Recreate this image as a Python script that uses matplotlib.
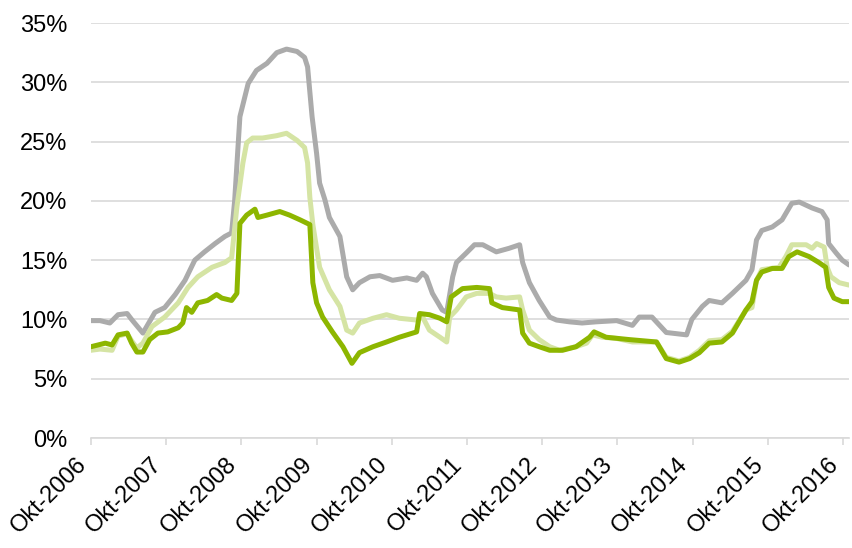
import matplotlib.pyplot as plt


#################### Data ####################

# x values in decimal years, y values in percent

gray_t = [2006.75, 2006.87, 2007.00, 2007.11, 2007.23, 2007.29, 2007.44, 2007.60, 2007.73, 2007.87,
          2008.00, 2008.13, 2008.26, 2008.40, 2008.53, 2008.62, 2008.66, 2008.73, 2008.84, 2008.95,
          2009.09, 2009.22, 2009.35, 2009.49, 2009.59, 2009.63, 2009.69, 2009.75, 2009.79, 2009.86,
          2009.92, 2010.06, 2010.15, 2010.23, 2010.32, 2010.46, 2010.59, 2010.76, 2010.95, 2011.08,
          2011.16, 2011.21, 2011.29, 2011.42, 2011.48, 2011.56, 2011.61, 2011.74, 2011.85, 2011.96,
          2012.14, 2012.31, 2012.45, 2012.49, 2012.58, 2012.71, 2012.85, 2012.94, 2013.11, 2013.28,
          2013.47, 2013.74, 2013.95, 2014.04, 2014.21, 2014.40, 2014.67, 2014.74, 2014.88, 2014.97,
          2015.14, 2015.28, 2015.46, 2015.54, 2015.60, 2015.67, 2015.81, 2015.94, 2016.07, 2016.17,
          2016.34, 2016.47, 2016.54, 2016.56, 2016.66, 2016.74, 2016.83]
gray_v = [9.9, 9.9, 9.7, 10.4, 10.5, 10.0, 8.85, 10.6, 11.0, 12.1,
          13.3, 15.0, 15.7, 16.4, 17.0, 17.3, 20.0, 27.1, 29.9, 31.0,
          31.6, 32.5, 32.8, 32.6, 32.1, 31.3, 27.1, 24.0, 21.5, 20.1,
          18.6, 17.0, 13.6, 12.5, 13.1, 13.6, 13.7, 13.3, 13.5, 13.3,
          13.9, 13.6, 12.2, 10.8, 10.6, 13.6, 14.8, 15.6, 16.3, 16.3,
          15.7, 16.0, 16.3, 14.8, 13.1, 11.6, 10.2, 9.95, 9.8, 9.7,
          9.8, 9.9, 9.5, 10.2, 10.2, 8.9, 8.7, 10.0, 11.1, 11.6,
          11.4, 12.2, 13.3, 14.2, 16.7, 17.5, 17.8, 18.4, 19.8, 19.9,
          19.4, 19.1, 18.4, 16.4, 15.6, 15.0, 14.6]

light_t = [2006.75, 2006.87, 2007.03, 2007.11, 2007.23, 2007.29, 2007.36, 2007.44, 2007.56, 2007.73,
           2007.91, 2008.04, 2008.17, 2008.36, 2008.53, 2008.62, 2008.69, 2008.77, 2008.82, 2008.90,
           2009.03, 2009.22, 2009.35, 2009.49, 2009.59, 2009.63, 2009.66, 2009.70, 2009.79, 2009.92,
           2010.06, 2010.15, 2010.23, 2010.32, 2010.50, 2010.68, 2010.85, 2011.08, 2011.16, 2011.25,
           2011.39, 2011.48, 2011.52, 2011.61, 2011.74, 2011.88, 2012.05, 2012.14, 2012.27, 2012.45,
           2012.49, 2012.58, 2012.71, 2012.85, 2012.98, 2013.20, 2013.34, 2013.42, 2013.55, 2013.74,
           2013.95, 2014.27, 2014.40, 2014.57, 2014.71, 2014.84, 2014.97, 2015.14, 2015.28, 2015.46,
           2015.54, 2015.60, 2015.67, 2015.90, 2015.99, 2016.07, 2016.26, 2016.34, 2016.40, 2016.50,
           2016.54, 2016.59, 2016.70, 2016.83]
light_v = [7.4, 7.5, 7.4, 8.6, 8.8, 8.2, 7.6, 8.0, 9.4, 10.2,
           11.4, 12.7, 13.6, 14.4, 14.8, 15.2, 19.5, 23.2, 24.9, 25.3,
           25.3, 25.5, 25.7, 25.1, 24.5, 23.2, 20.3, 18.0, 14.4, 12.5,
           11.1, 9.1, 8.85, 9.7, 10.1, 10.4, 10.1, 9.95, 10.2, 9.1,
           8.5, 8.1, 10.2, 10.8, 11.9, 12.2, 12.2, 11.9, 11.8, 11.9,
           10.8, 9.1, 8.3, 7.7, 7.4, 7.7, 8.0, 8.7, 8.5, 8.4,
           8.1, 8.1, 6.8, 6.5, 6.8, 7.4, 8.2, 8.3, 9.0, 10.8,
           11.0, 13.3, 14.2, 14.4, 15.3, 16.3, 16.3, 16.0, 16.4, 16.1,
           14.4, 13.6, 13.1, 12.9]

dark_t = [2006.75, 2006.94, 2007.03, 2007.11, 2007.23, 2007.29, 2007.36, 2007.44, 2007.53, 2007.64,
          2007.77, 2007.91, 2007.97, 2008.02, 2008.09, 2008.17, 2008.30, 2008.42, 2008.49, 2008.62,
          2008.69, 2008.73, 2008.82, 2008.93, 2008.97, 2009.09, 2009.26, 2009.39, 2009.53, 2009.66,
          2009.70, 2009.75, 2009.83, 2009.96, 2010.10, 2010.22, 2010.32, 2010.50, 2010.68, 2010.85,
          2011.08, 2011.12, 2011.25, 2011.39, 2011.48, 2011.54, 2011.69, 2011.88, 2012.05, 2012.08,
          2012.22, 2012.45, 2012.49, 2012.58, 2012.71, 2012.85, 2013.02, 2013.20, 2013.38, 2013.44,
          2013.60, 2013.91, 2014.27, 2014.40, 2014.57, 2014.71, 2014.84, 2014.97, 2015.14, 2015.28,
          2015.46, 2015.54, 2015.60, 2015.67, 2015.81, 2015.94, 2016.03, 2016.14, 2016.30, 2016.43,
          2016.52, 2016.56, 2016.63, 2016.74, 2016.83]
dark_v = [7.7, 8.0, 7.85, 8.7, 8.85, 8.0, 7.25, 7.25, 8.3, 8.85,
          8.95, 9.3, 9.7, 11.0, 10.6, 11.4, 11.6, 12.1, 11.8, 11.6,
          12.2, 18.1, 18.8, 19.3, 18.6, 18.8, 19.1, 18.8, 18.4, 18.0,
          13.1, 11.4, 10.2, 8.95, 7.7, 6.3, 7.2, 7.7, 8.1, 8.5,
          8.95, 10.5, 10.4, 10.1, 9.8, 11.9, 12.6, 12.7, 12.6, 11.4,
          11.0, 10.8, 8.85, 8.0, 7.7, 7.4, 7.4, 7.7, 8.5, 8.95,
          8.5, 8.3, 8.1, 6.7, 6.4, 6.7, 7.2, 8.0, 8.1, 8.85,
          10.8, 11.5, 13.3, 14.0, 14.3, 14.3, 15.3, 15.7, 15.3, 14.8,
          14.4, 12.7, 11.8, 11.5, 11.5]

xtick_pos = [2006.75, 2007.75, 2008.75, 2009.75, 2010.75, 2011.75,
             2012.75, 2013.75, 2014.75, 2015.75, 2016.75]
xtick_lab = ['Okt-2006', 'Okt-2007', 'Okt-2008', 'Okt-2009', 'Okt-2010', 'Okt-2011',
             'Okt-2012', 'Okt-2013', 'Okt-2014', 'Okt-2015', 'Okt-2016']
ytick_pos = [0, 5, 10, 15, 20, 25, 30, 35]


#################### Form ####################

plt.rcParams['font.family'] = ['Liberation Sans', 'DejaVu Sans']
FS = 17
LW = 3.6


#################### Main ####################

fig = plt.figure(figsize=(8.53, 5.48), dpi=100)
ax = fig.add_axes([0.1067, 0.2007, 0.8886, 0.7573])

ax.plot(gray_t, gray_v, color='#ABABAB', lw=LW, solid_joinstyle='round', solid_capstyle='round', zorder=3)
ax.plot(light_t, light_v, color='#D5E4A4', lw=LW, solid_joinstyle='round', solid_capstyle='round', zorder=4)
ax.plot(dark_t, dark_v, color='#8DB600', lw=LW, solid_joinstyle='round', solid_capstyle='round', zorder=5)

ax.set_xlim(2006.75, 2016.83)
ax.set_ylim(0, 35)

ax.set_yticks(ytick_pos)
ax.set_yticklabels([str(v) + '%' for v in ytick_pos], fontsize=FS)
ax.set_xticks(xtick_pos)
ax.set_xticklabels(xtick_lab, fontsize=FS, rotation=45, ha='right')

ax.grid(axis='y', color='#D9D9D9', lw=1.2, zorder=0)
ax.set_axisbelow(True)
for s in ['top', 'right', 'left']:
    ax.spines[s].set_visible(False)
ax.spines['bottom'].set_color('#D9D9D9')
ax.spines['bottom'].set_linewidth(1.2)

ax.tick_params(axis='y', length=0, pad=17)
ax.tick_params(axis='x', length=5, width=1.2, color='#D9D9D9', pad=6)

fig.savefig('out.png', dpi=100)
